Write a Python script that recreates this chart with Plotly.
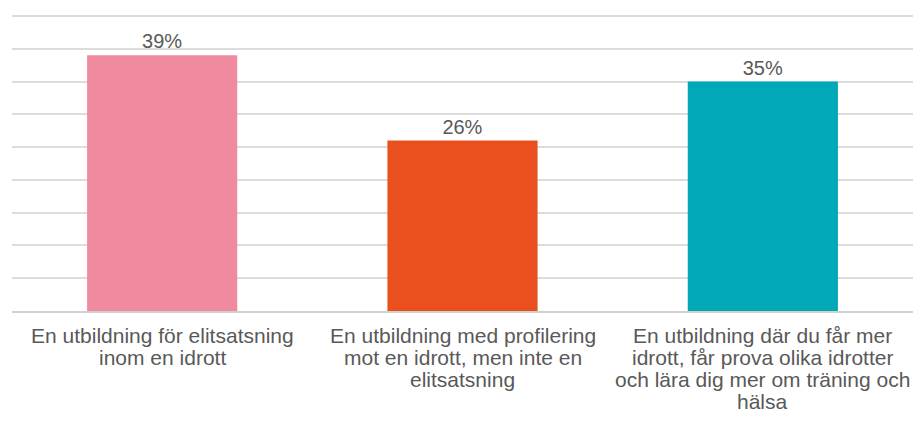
import plotly.graph_objects as go

categories = ["elit", "profil", "bred"]
label_lines = [
    ["En utbildning för elitsatsning", "inom en idrott"],
    ["En utbildning med profilering", "mot en idrott, men inte en", "elitsatsning"],
    ["En utbildning där du får mer", "idrott, får prova olika idrotter",
     "och lära dig mer om träning och", "hälsa"],
]
values = [39, 26, 35]
labels = ["39%", "26%", "35%"]
colors = ["#F08B9F", "#E9501E", "#00A8B8"]

FONT = "Liberation Sans, Arial"
fig = go.Figure(go.Bar(
    x=categories, y=values, text=labels, textposition="outside",
    marker=dict(color=colors, line=dict(width=0)),
    width=0.5, cliponaxis=False,
    textfont=dict(family=FONT, size=20, color="#595959"),
))

for cat, lines in zip(categories, label_lines):
    for i, line in enumerate(lines):
        fig.add_annotation(
            x=cat, y=0, xref="x", yref="y", text=line, showarrow=False,
            yanchor="top", xanchor="center", yshift=-(11 + 22 * i),
            font=dict(family=FONT, size=21, color="#595959"),
        )

fig.update_layout(
    width=905, height=405,
    margin=dict(l=4, r=0, t=6, b=102, autoexpand=False),
    paper_bgcolor="white", plot_bgcolor="white",
    showlegend=False,
    font=dict(family=FONT, size=20, color="#595959"),
    xaxis=dict(showline=True, linecolor="#D0D0D0", linewidth=2,
               showticklabels=False, ticks="", showgrid=False, automargin=False),
    yaxis=dict(range=[0, 45.3], tickvals=[5, 10, 15, 20, 25, 30, 35, 40, 45],
               showticklabels=False, gridcolor="#DCDCDC",
               gridwidth=2, zeroline=False, ticks="", automargin=False),
)
fig.write_html("out.html")
